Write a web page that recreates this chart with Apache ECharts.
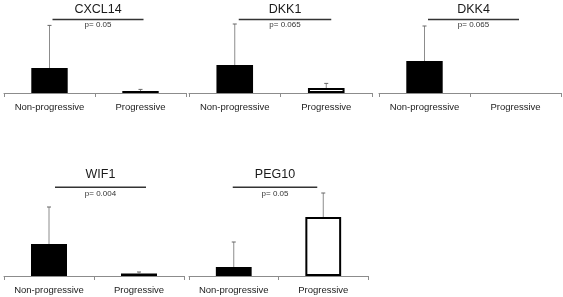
<!DOCTYPE html>
<html><head><meta charset="utf-8">
<script src="https://cdn.jsdelivr.net/npm/echarts@6/dist/echarts.min.js"></script>
<style>html,body{margin:0;padding:0;background:#fff}#c{width:563px;height:297px}</style>
</head><body><div id="c"></div>
<script>
// ---- data ----
const genes = ['CXCL14', 'DKK1', 'DKK4', 'WIF1', 'PEG10'];
const categories = ['Non-progressive', 'Progressive'];
const barNonProg = [1.25, 1.4, 1.6, 1.6, 0.45];
const barProg = [0.1, 0.25, 0, 0.13, 2.95];
const errTopNonProg = [3.38, 3.45, 3.35, 3.45, 1.7];
const errTopProg = [0.18, 0.48, 0, 0.2, 4.15];
const pValues = ['0.05', '0.065', '0.065', '0.004', '0.05'];

// ---- styles / layout ----
const progFill = ['#000', '#fff', '#000', '#000', '#fff'];
const panels = [
  {left: 4, width: 182, top: 3, row: 0},
  {left: 189, width: 183, top: 3, row: 0},
  {left: 379, width: 182, top: 3, row: 0},
  {left: 4, width: 180, top: 186, row: 1},
  {left: 189, width: 179, top: 186, row: 1}
];
const rowY = [{title: 10, bracket: 19.5, p: 25}, {title: 175, bracket: 187.3, p: 193.5}];
const bracketOffsets = [[3, 3], [4, 5], [3.5, 3.5], [6, 7], [-1, -6]];
const gridH = 90;
const yMax = 4.5;
const FONT = '"Liberation Sans", Arial, sans-serif';

const chart = echarts.init(document.getElementById('c'), null, {renderer: 'canvas'});

const grid = [], xAxis = [], yAxis = [], series = [], title = [], graphic = [];
panels.forEach((p, i) => {
  grid.push({left: p.left, top: p.top, width: p.width, height: gridH, containLabel: false});
  xAxis.push({
    type: 'category', gridIndex: i, data: categories, boundaryGap: true,
    axisLine: {lineStyle: {color: '#8c8c8c', width: 1}},
    axisTick: {show: true, length: 4, lineStyle: {color: '#8c8c8c'}},
    axisLabel: {color: '#222', fontSize: 9.5, fontFamily: FONT, margin: 9, interval: 0}
  });
  yAxis.push({type: 'value', gridIndex: i, min: 0, max: yMax, show: false, splitLine: {show: false}});
  series.push({
    type: 'bar', xAxisIndex: i, yAxisIndex: i, barWidth: '40%', animation: false,
    data: [
      {value: barNonProg[i], itemStyle: {color: '#000', borderWidth: 0}},
      {value: barProg[i], itemStyle: {color: progFill[i], borderColor: '#000', borderWidth: progFill[i] === '#fff' ? 2 : 0}}
    ]
  });
  series.push({
    type: 'custom', xAxisIndex: i, yAxisIndex: i, animation: false, z: 1,
    data: [[0, barNonProg[i], errTopNonProg[i]], [1, barProg[i], errTopProg[i]]],
    renderItem: function (params, api) {
      const x = api.value(0), b = api.value(1), e = api.value(2);
      if (!(e > b)) return null;
      const p0 = api.coord([x, b]);
      const p1 = api.coord([x, e]);
      return {
        type: 'group', children: [
          {type: 'line', shape: {x1: p0[0], y1: p0[1], x2: p1[0], y2: p1[1]}, style: {stroke: '#8c8c8c', lineWidth: 1}},
          {type: 'line', shape: {x1: p1[0] - 2, y1: p1[1], x2: p1[0] + 2, y2: p1[1]}, style: {stroke: '#666', lineWidth: 1}}
        ]
      };
    }
  });
  const c0 = p.left + p.width * 0.25, c1 = p.left + p.width * 0.75;
  const bx0 = c0 + bracketOffsets[i][0], bx1 = c1 + bracketOffsets[i][1];
  const r = rowY[p.row];
  title.push({
    text: genes[i], left: (bx0 + bx1) / 2, top: r.title - 6.5, textAlign: 'center',
    textStyle: {fontSize: 12.5, fontWeight: 'normal', color: '#1a1a1a', fontFamily: FONT}, padding: 0
  });
  graphic.push({type: 'line', shape: {x1: bx0, y1: r.bracket, x2: bx1, y2: r.bracket}, style: {stroke: '#333', lineWidth: 1.4}, silent: true});
  graphic.push({type: 'text', x: (bx0 + bx1) / 2, y: r.p, style: {text: 'p= ' + pValues[i], fill: '#333', font: '8px ' + FONT, textAlign: 'center', textVerticalAlign: 'middle'}, silent: true});
});

chart.setOption({animation: false, backgroundColor: '#fff', grid, xAxis, yAxis, series, title, graphic});
</script></body></html>
